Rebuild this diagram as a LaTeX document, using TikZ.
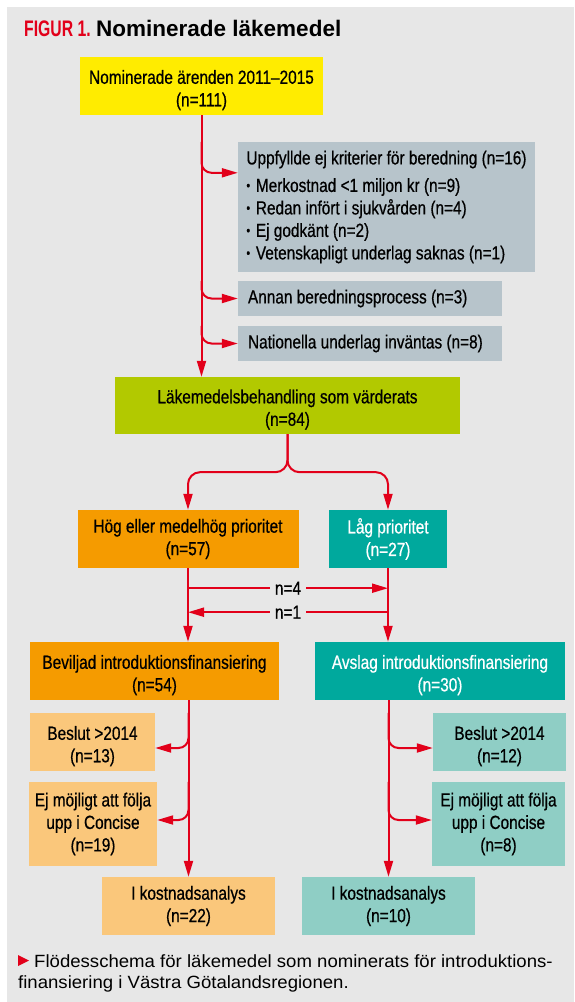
\documentclass[tikz,border=0pt]{standalone}
\usepackage{fontspec}
\setmainfont{Liberation Sans}
\newfontfamily\boxfont{Liberation Sans}[FakeStretch=0.81,FakeBold=0.6]
\newfontfamily\figfont{Liberation Sans}[FakeStretch=0.7]
\newfontfamily\capfont{Liberation Sans}[FakeStretch=1.05]
\usetikzlibrary{arrows.meta}
\definecolor{panel}{HTML}{E7E7E7}
\definecolor{figred}{HTML}{E2001A}
\definecolor{nomyellow}{HTML}{FFEC00}
\definecolor{exclgray}{HTML}{B7C4CB}
\definecolor{evalgreen}{HTML}{B2C900}
\definecolor{highorange}{HTML}{F59B00}
\definecolor{lowteal}{HTML}{00A99D}
\definecolor{palorange}{HTML}{FAC77B}
\definecolor{palteal}{HTML}{8FCEC5}
\newcommand{\bul}{\raisebox{0.1em}{\scalebox{0.7}{•}}\hspace{0.3em}}
\newcommand{\sink}{\rule{0pt}{22pt}}

\begin{document}
\begin{tikzpicture}[x=1pt,y=-1pt,line join=round,
  fbox/.style={inner sep=0pt,align=center,font=\boxfont\fontsize{19}{22.5}\selectfont},
  flow/.style={draw=figred,line width=2pt,-{Triangle[length=16pt,width=9pt]}},
  tapflow/.style={flow,rounded corners=10pt},
  tag/.style={fill=panel,inner xsep=4.5pt,inner ysep=1pt,font=\boxfont\fontsize{19}{22.5}\selectfont}]
  \useasboundingbox (0,0) rectangle (574,1002);
  \fill[panel] (7,7) rectangle (574,1002);
  % title
  \node[anchor=base west,inner sep=0pt,text=figred,font=\figfont\bfseries\fontsize{22.5}{27}\selectfont] (fig) at (24,36) {FIGUR 1.};
  \node[anchor=base west,inner sep=0pt,font=\bfseries\fontsize{22.5}{27}\selectfont] (title) at (96,36) {Nominerade läkemedel};
  % boxes
  \node[fbox,fill=nomyellow,minimum width=243pt,minimum height=58pt] (nom) at (201.5,86) {\sink Nominerade ärenden 2011–2015\\(n=111)};
  \node[fbox,fill=exclgray,align=left,minimum width=297pt,minimum height=130pt] (uppf) at (386.5,207)
    {Uppfyllde ej kriterier för beredning (n=16)\\[5pt]
     \bul Merkostnad <1 miljon kr (n=9)\\
     \bul Redan infört i sjukvården (n=4)\\
     \bul Ej godkänt (n=2)\\
     \bul Vetenskapligt underlag saknas (n=1)};
  \node[fbox,fill=exclgray,inner xsep=10pt,minimum width=264pt,minimum height=35pt] (annan) at (370,298.5) {\makebox[244pt][l]{Annan beredningsprocess (n=3)}};
  \node[fbox,fill=exclgray,inner xsep=10pt,minimum width=264pt,minimum height=35pt] (nat) at (370,343.5) {\makebox[244pt][l]{Nationella underlag inväntas (n=8)}};
  \node[fbox,fill=evalgreen,minimum width=345pt,minimum height=57pt] (lak) at (287.5,405.5) {\sink Läkemedelsbehandling som värderats\\(n=84)};
  \node[fbox,fill=highorange,minimum width=221pt,minimum height=58pt] (hog) at (188,539) {Hög eller medelhög prioritet\\(n=57)};
  \node[fbox,fill=lowteal,text=white,minimum width=118pt,minimum height=58pt] (lag) at (388,539) {Låg prioritet\\(n=27)};
  \node[fbox,fill=highorange,minimum width=249pt,minimum height=58pt] (bev) at (154.5,671) {\sink Beviljad introduktionsfinansiering\\(n=54)};
  \node[fbox,fill=lowteal,text=white,minimum width=250pt,minimum height=58pt] (avs) at (440,671) {\sink Avslag introduktionsfinansiering\\(n=30)};
  \node[fbox,fill=palorange,minimum width=125pt,minimum height=58pt] (bes13) at (92.5,742) {\sink Beslut >2014\\(n=13)};
  \node[fbox,fill=palorange,minimum width=128pt,minimum height=84pt] (ej19) at (93,824) {Ej möjligt att följa\\upp i Concise\\(n=19)};
  \node[fbox,fill=palorange,minimum width=173pt,minimum height=58pt] (kost22) at (188.5,906) {I kostnadsanalys\\(n=22)};
  \node[fbox,fill=palteal,minimum width=133pt,minimum height=58pt] (bes12) at (499.5,742) {\sink Beslut >2014\\(n=12)};
  \node[fbox,fill=palteal,minimum width=133pt,minimum height=84pt] (ej8) at (498.5,824) {Ej möjligt att följa\\upp i Concise\\(n=8)};
  \node[fbox,fill=palteal,minimum width=173pt,minimum height=58pt] (kost10) at (388.5,906) {I kostnadsanalys\\(n=10)};
  % arrows
  \draw[flow] (nom.south) -- (nom.south |- lak.north);
  \draw[tapflow] (nom.south |- uppf.north) |- ([yshift=-31pt]uppf.north west);
  \draw[tapflow] (nom.south |- annan.north) |- (annan.west);
  \draw[tapflow] (nom.south |- nat.north) |- (nat.west);
  \draw[flow,rounded corners=12pt] (lak.south) -- ++(0,38) -| (hog.north);
  \draw[flow,rounded corners=12pt] (lak.south) -- ++(0,38) -| (lag.north);
  \draw[flow] (hog.south) -- (hog.south |- bev.north);
  \draw[flow] (lag.south) -- (lag.south |- avs.north);
  \draw[flow] ([yshift=-20pt]hog.south) -- node[tag] (n4) {n=4} ([yshift=-20pt]lag.south);
  \draw[flow] ([yshift=-44pt]lag.south) -- node[tag] (n1) {n=1} ([yshift=-44pt]hog.south);
  \draw[flow] (kost22.north |- bev.south) -- (kost22.north);
  \draw[tapflow] (kost22.north |- bes13.north) |- ([yshift=-6pt]bes13.east);
  \draw[tapflow] (kost22.north |- ej19.north) |- ([yshift=4pt]ej19.east);
  \draw[flow] (kost10.north |- avs.south) -- (kost10.north);
  \draw[tapflow] (kost10.north |- bes12.north) |- ([yshift=-6pt]bes12.west);
  \draw[tapflow] (kost10.north |- ej8.north) |- ([yshift=4pt]ej8.west);
  % caption
  \fill[figred] (18,955) -- (29,960.5) -- (18,966) -- cycle;
  \node[anchor=base west,inner sep=0pt,font=\capfont\fontsize{17.7}{22}\selectfont] (cap1) at (34,967) {Flödesschema för läkemedel som nominerats för introduktions-};
  \node[anchor=base west,inner sep=0pt,font=\capfont\fontsize{17.7}{22}\selectfont] (cap2) at (18,988) {finansiering i Västra Götalandsregionen.};
\end{tikzpicture}
\end{document}
